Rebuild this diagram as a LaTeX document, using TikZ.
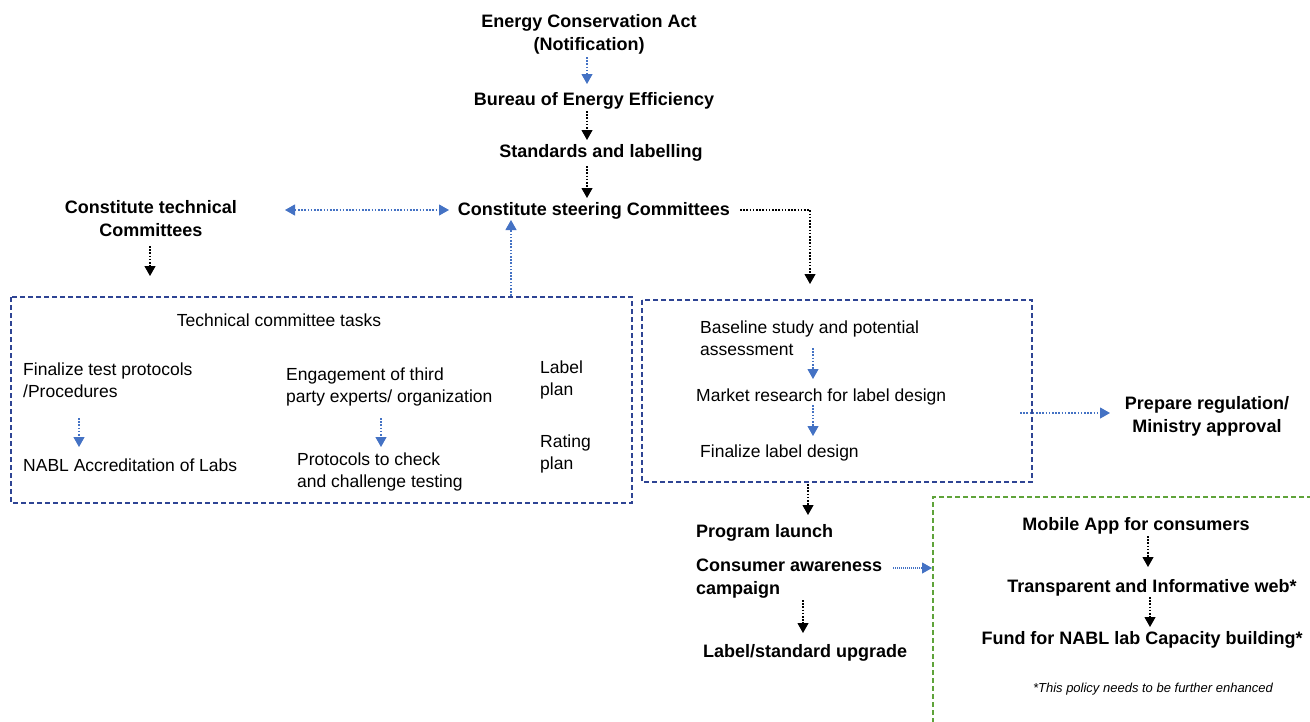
\documentclass[tikz,border=0pt]{standalone}
\usepackage{fontspec}
\setmainfont{Liberation Sans}
\usetikzlibrary{arrows.meta}
\definecolor{arrblue}{HTML}{4472C4}
\definecolor{boxnavy}{HTML}{2E4494}
\definecolor{boxgreen}{HTML}{5FA33A}
\begin{document}
\begin{tikzpicture}[x=1pt,y=-1pt,
  bld/.style={font=\fontsize{18}{23}\selectfont\bfseries, inner sep=0pt, align=center, yshift=-2pt},
  bldl/.style={font=\fontsize{18}{23}\selectfont\bfseries, inner sep=0pt, align=left, anchor=west, yshift=-2pt},
  reg/.style={font=\fontsize{17.5}{22.5}\selectfont, inner sep=0pt, align=left, anchor=west, yshift=-2pt},
  tip/.style={-{Triangle[width=11pt,length=10pt]}},
  barr/.style={draw=black, line width=1.1pt, dash pattern=on 1.6pt off 1.6pt, tip},
  blarr/.style={draw=arrblue, line width=1.1pt, dash pattern=on 1.6pt off 1.6pt, tip, arrblue},
  navybox/.style={draw=boxnavy, line width=1.2pt, dash pattern=on 5pt off 3pt},
  greenbox/.style={draw=boxgreen, line width=1.2pt, dash pattern=on 5pt off 3pt}]
\useasboundingbox (0,0) rectangle (1310,721);
% top chain
\node[bld] (eca) at (589,32) {Energy Conservation Act\\(Notification)};
\node[bld] (bee) at (594,99) {Bureau of Energy Efficiency};
\node[bld] (snl) at (601,151) {Standards and labelling};
\node[bld] (steer) at (594,209) {Constitute steering Committees};
\node[bld] (tech) at (151,217) {Constitute technical\\Committees};
\draw[blarr] (587,57) -- (587,84);
\draw[barr] (587,111) -- (587,140);
\draw[barr] (587,166) -- (587,198);
% double arrow
\coordinate (dl) at (285,210);
\coordinate (dr) at (449,210);
\draw[blarr, {Triangle[width=11pt,length=10pt]}-{Triangle[width=11pt,length=10pt]}] (dl) -- (dr);
\coordinate (techdown) at (150,276);
\draw[barr] (150,246) -- (techdown);
% left box
\draw[navybox] (11,297) rectangle (632,503);
\coordinate (lbtop) at (511,296);
\draw[blarr] (lbtop) -- (511,220);
\node[font=\fontsize{17.5}{22.5}\selectfont, inner sep=0pt, yshift=-2pt] (tct) at (279,318) {Technical committee tasks};
\node[reg] (ftp) at (23,378) {Finalize test protocols\\/Procedures};
\node[reg] (nabl) at (23,463) {NABL Accreditation of Labs};
\draw[blarr] (79,418) -- (79,447);
\node[reg] (eng) at (286,385) {Engagement of third\\party experts/ organization};
\node[reg] (ptc) at (297,470) {Protocols to check\\and challenge testing};
\draw[blarr] (381,418) -- (381,447);
\node[reg] (lp) at (540,378) {Label\\plan};
\node[reg] (rp) at (540,452) {Rating\\plan};
% steering to right box
\coordinate (sout) at (740,210);
\coordinate (sc) at (810,210);
\coordinate (rbin) at (810,284);
\draw[barr] (sout) -- (sc) -- (rbin);
% right box
\draw[navybox] (642,300) rectangle (1032,482);
\node[reg] (bsl) at (700,336) {Baseline study and potential\\assessment};
\node[reg] (mkt) at (696,395) {Market research for label design};
\node[reg] (fld) at (700,451) {Finalize label design};
\draw[blarr] (813,348) -- (813,379);
\draw[blarr] (813,405) -- (813,436);
\node[bld] (prep) at (1207,414) {Prepare regulation/\\Ministry approval};
\coordinate (rbout) at (1020,413);
\draw[blarr] (rbout) -- (1110,413);
% below right box
\node[bldl] (pl) at (696,531) {Program launch};
\node[bldl] (caw) at (696,577) {Consumer awareness\\campaign};
\node[bldl] (lsu) at (703,651) {Label/standard upgrade};
\draw[barr] (808,484) -- (808,515);
\draw[barr] (803,600) -- (803,633);
\coordinate (gin) at (932,568);
\draw[blarr, dash pattern=on 1pt off 1pt] (893,568) -- (gin);
% green box
\draw[greenbox] (1312,497) -- (933,497) -- (933,723);
\node[bld] (mob) at (1136,524) {Mobile App for consumers};
\node[bld] (web) at (1152,586) {Transparent and Informative web*};
\node[bld] (fund) at (1142,638) {Fund for NABL lab Capacity building*};
\draw[barr] (1148,536) -- (1148,567);
\draw[barr] (1150,597) -- (1150,627);
\node[font=\fontsize{13}{16}\selectfont\itshape, inner sep=0pt, yshift=-2pt] (note) at (1153,687) {*This policy needs to be further enhanced};
\end{tikzpicture}
\end{document}
